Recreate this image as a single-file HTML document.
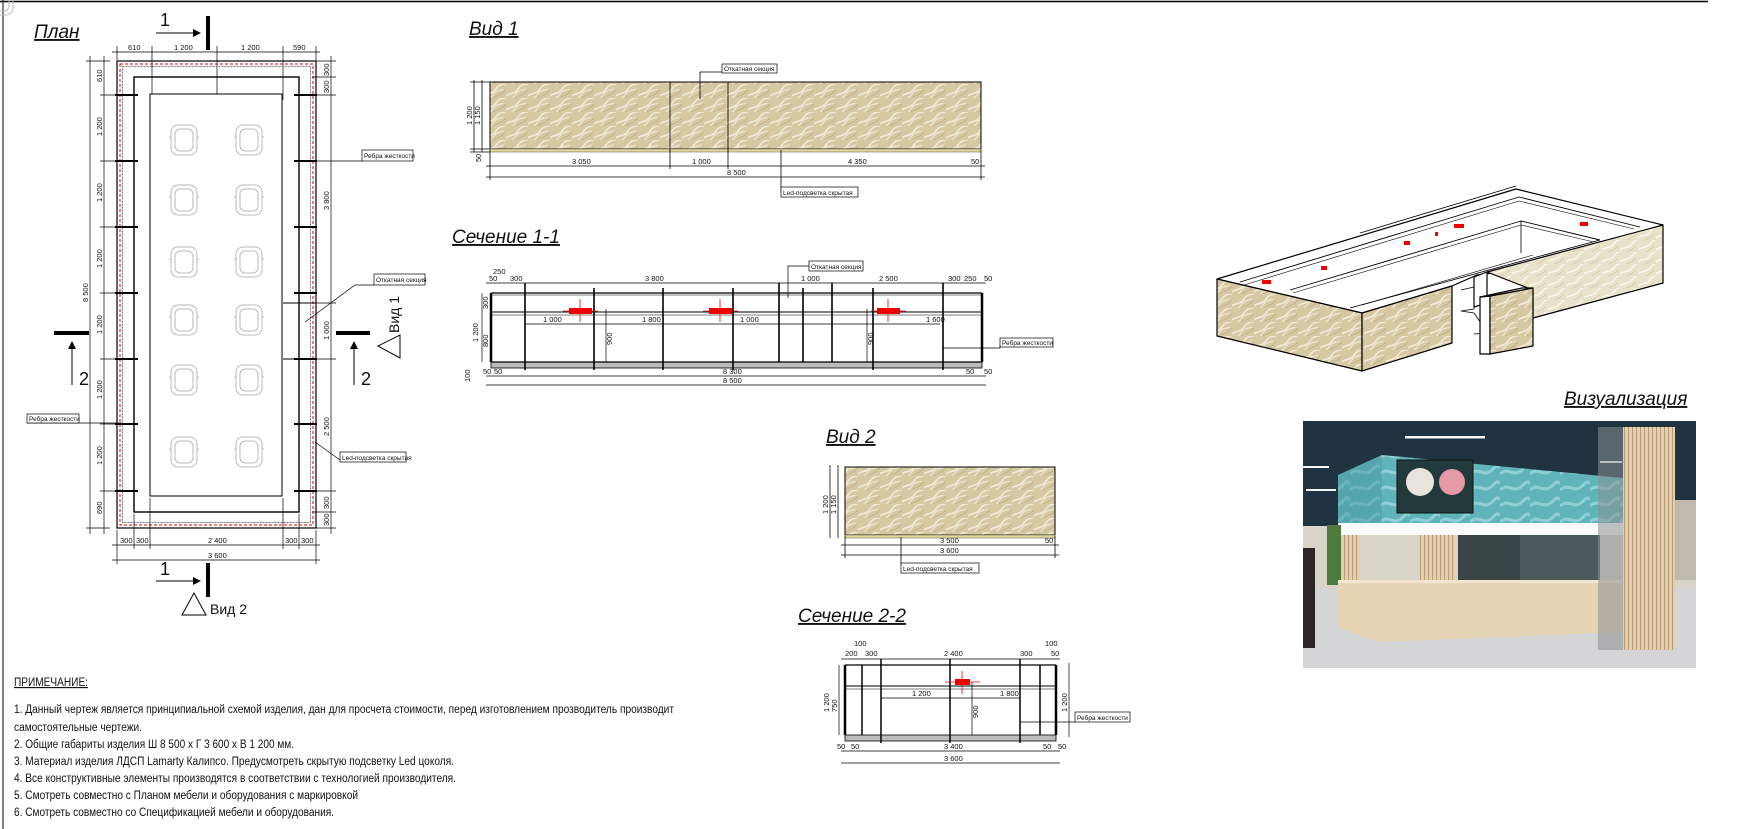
<!DOCTYPE html>
<html><head><meta charset="utf-8"><style>
html,body{margin:0;padding:0;background:#fff}
svg{display:block}
text{font-family:"Liberation Sans",sans-serif;fill:#111}
.t{font-size:19px;font-style:italic;text-decoration:underline}
.d{font-size:7.5px}
.n{font-size:11.5px}
.lb{font-size:6.5px}
</style></head><body>
<svg width="1761" height="829" viewBox="0 0 1761 829" xmlns="http://www.w3.org/2000/svg">
<defs>
<pattern id="wood" width="22" height="14" patternUnits="userSpaceOnUse">
<rect width="22" height="14" fill="#d6c8a3"/>
<path d="M-2 13 C4 8 8 11 12 5 S19 1 24 -1" stroke="#f2ebd8" stroke-width="1.6" fill="none"/>
<path d="M-6 20 C1 15 5 17 9 11 S16 7 20 5" stroke="#efe7d2" stroke-width="1.2" fill="none"/>
<path d="M8 15 C13 11 16 12 20 8 S26 4 30 2" stroke="#b9a77f" stroke-width=".6" fill="none"/>
</pattern>
<pattern id="wood2" width="18" height="12" patternUnits="userSpaceOnUse">
<rect width="18" height="12" fill="#e9e2ca"/>
<path d="M-2 11 C4 6 8 9 12 4 S17 0 20 -1" stroke="#faf7ee" stroke-width="1.5" fill="none"/>
<path d="M4 14 C9 10 12 11 16 6" stroke="#c9bc96" stroke-width=".6" fill="none"/>
</pattern>
<pattern id="teal" width="30" height="16" patternUnits="userSpaceOnUse">
<rect width="30" height="16" fill="#5fb3b9"/>
<path d="M0 10 C8 2 14 14 22 6 S28 4 30 3" stroke="#8ed0d3" stroke-width="3" fill="none"/>
</pattern>
<pattern id="slat" width="4" height="10" patternUnits="userSpaceOnUse">
<rect width="4" height="10" fill="#e3cfaf"/><rect width="1" height="10" fill="#b79e79"/>
</pattern>
<marker id="ar" markerWidth="8" markerHeight="8" refX="7" refY="4" orient="auto"><path d="M0 0 L8 4 L0 8z" fill="#000"/></marker>
</defs>

<!-- frame -->
<line x1="0" y1="1.5" x2="1708" y2="1.5" stroke="#000" stroke-width="1.5"/>
<line x1="3" y1="0" x2="3" y2="829" stroke="#000" stroke-width="1"/>

<!-- ========== PLAN ========== -->
<text x="34" y="38" class="t">План</text>
<!-- section 1 top -->
<line x1="208" y1="16" x2="208" y2="50" stroke="#000" stroke-width="4"/>
<line x1="156" y1="33" x2="200" y2="33" stroke="#000" stroke-width="1" marker-end="url(#ar)"/>
<text x="160" y="26" font-size="18">1</text>
<!-- top dims -->
<g stroke="#000" stroke-width=".7">
<line x1="112" y1="52" x2="320" y2="52"/>
<line x1="117" y1="46" x2="117" y2="60"/><line x1="152" y1="46" x2="152" y2="100"/><line x1="217" y1="46" x2="217" y2="100"/><line x1="283" y1="46" x2="283" y2="100"/><line x1="316" y1="46" x2="316" y2="60"/>
</g>
<text x="128" y="50" class="d">610</text><text x="174" y="50" class="d">1 200</text><text x="241" y="50" class="d">1 200</text><text x="293" y="50" class="d">590</text>
<!-- walls -->
<rect x="117" y="61" width="199" height="467" fill="none" stroke="#000" stroke-width="1.2"/>
<rect x="120" y="64" width="193" height="461" fill="none" stroke="#d00" stroke-width="1" stroke-dasharray="3,2"/>
<rect x="122.5" y="66.5" width="188" height="456" fill="none" stroke="#777" stroke-width="1" stroke-dasharray="2,1"/>
<rect x="134" y="77" width="165" height="435" fill="none" stroke="#000" stroke-width="1.4"/>
<rect x="150" y="94" width="132" height="402" fill="#fff" stroke="#000" stroke-width="1"/>
<!-- notch -->
<g stroke="#000" stroke-width="1"><line x1="283" y1="303" x2="315" y2="303"/><line x1="283" y1="359" x2="315" y2="359"/></g>
<!-- rib ticks -->
<g stroke="#000" stroke-width="2">
<line x1="115" y1="95" x2="138" y2="95"/><line x1="115" y1="161" x2="138" y2="161"/><line x1="115" y1="227" x2="138" y2="227"/><line x1="115" y1="293" x2="138" y2="293"/><line x1="115" y1="359" x2="138" y2="359"/><line x1="115" y1="424" x2="138" y2="424"/><line x1="115" y1="491" x2="138" y2="491"/>
<line x1="294" y1="95" x2="317" y2="95"/><line x1="294" y1="161" x2="317" y2="161"/><line x1="294" y1="227" x2="317" y2="227"/><line x1="294" y1="293" x2="317" y2="293"/><line x1="294" y1="359" x2="317" y2="359"/><line x1="294" y1="424" x2="317" y2="424"/><line x1="294" y1="491" x2="317" y2="491"/>
</g>
<!-- chairs -->
<g fill="none" stroke="#bbb" stroke-width="1">
<g id="ch"><rect x="-13" y="-15" width="26" height="30" rx="7"/><rect x="-9" y="-11" width="18" height="22" rx="5"/><line x1="-15" y1="-3" x2="-13" y2="-3"/><line x1="13" y1="-3" x2="15" y2="-3"/></g>
<use href="#ch" x="184" y="140"/><use href="#ch" x="249" y="140"/>
<use href="#ch" x="184" y="200"/><use href="#ch" x="249" y="200"/>
<use href="#ch" x="184" y="262"/><use href="#ch" x="249" y="262"/>
<use href="#ch" x="184" y="320"/><use href="#ch" x="249" y="320"/>
<use href="#ch" x="184" y="380"/><use href="#ch" x="249" y="380"/>
<use href="#ch" x="184" y="452"/><use href="#ch" x="249" y="452"/>
</g>
<!-- left dims -->
<g stroke="#000" stroke-width=".7">
<line x1="90" y1="56" x2="90" y2="534"/><line x1="104" y1="56" x2="104" y2="534"/>
<line x1="86" y1="61" x2="110" y2="61"/><line x1="86" y1="528" x2="110" y2="528"/>
<line x1="100" y1="95" x2="118" y2="95"/><line x1="100" y1="161" x2="118" y2="161"/><line x1="100" y1="227" x2="118" y2="227"/><line x1="100" y1="293" x2="118" y2="293"/><line x1="100" y1="359" x2="118" y2="359"/><line x1="100" y1="424" x2="118" y2="424"/><line x1="100" y1="491" x2="118" y2="491"/>
</g>
<g class="d">
<text transform="translate(102,82) rotate(-90)">610</text>
<text transform="translate(102,136) rotate(-90)">1 200</text><text transform="translate(102,202) rotate(-90)">1 200</text><text transform="translate(102,268) rotate(-90)">1 200</text><text transform="translate(102,334) rotate(-90)">1 200</text><text transform="translate(102,399) rotate(-90)">1 200</text><text transform="translate(102,465) rotate(-90)">1 200</text>
<text transform="translate(102,514) rotate(-90)">690</text>
<text transform="translate(88,302) rotate(-90)">8 500</text>
</g>
<!-- right dims -->
<g stroke="#000" stroke-width=".7">
<line x1="331" y1="56" x2="331" y2="534"/>
<line x1="312" y1="61" x2="336" y2="61"/><line x1="312" y1="77" x2="336" y2="77"/><line x1="312" y1="95" x2="336" y2="95"/><line x1="312" y1="303" x2="336" y2="303"/><line x1="312" y1="359" x2="336" y2="359"/><line x1="312" y1="491" x2="336" y2="491"/><line x1="312" y1="512" x2="336" y2="512"/><line x1="312" y1="528" x2="336" y2="528"/>
</g>
<g class="d">
<text transform="translate(329,76) rotate(-90)">300</text><text transform="translate(329,93) rotate(-90)">300</text>
<text transform="translate(329,210) rotate(-90)">3 800</text><text transform="translate(329,340) rotate(-90)">1 000</text>
<text transform="translate(329,436) rotate(-90)">2 500</text>
<text transform="translate(329,509) rotate(-90)">300</text><text transform="translate(329,526) rotate(-90)">300</text>
</g>
<!-- leaders -->
<g stroke="#000" stroke-width=".7" fill="none">
<polyline points="298,161 362,161"/>
<polyline points="305,322 355,285 374,285"/>
<polyline points="27,423 122,423"/>
<polyline points="315,442 340,460"/>
</g>
<rect x="362" y="150" width="51" height="11" fill="#fff" stroke="#000" stroke-width=".7"/><text x="364" y="158" class="lb">Ребра жесткости</text>
<rect x="374" y="274" width="51" height="11" fill="#fff" stroke="#000" stroke-width=".7"/><text x="376" y="282" class="lb">Откатная секция</text>
<rect x="27" y="414" width="52" height="9" fill="#fff" stroke="#000" stroke-width=".7"/><text x="29" y="421" class="lb">Ребра жесткости</text>
<rect x="340" y="452" width="66" height="10" fill="#fff" stroke="#000" stroke-width=".7"/><text x="342" y="460" class="lb">Led-подсветка скрытая</text>
<!-- section 2 markers -->
<line x1="54" y1="333" x2="89" y2="333" stroke="#000" stroke-width="4"/>
<line x1="72" y1="385" x2="72" y2="342" stroke="#000" marker-end="url(#ar)"/>
<text x="79" y="385" font-size="18">2</text>
<line x1="336" y1="333" x2="370" y2="333" stroke="#000" stroke-width="4"/>
<line x1="354" y1="385" x2="354" y2="342" stroke="#000" marker-end="url(#ar)"/>
<text x="361" y="385" font-size="18">2</text>
<polygon points="400,335 400,358 378,346" fill="#fff" stroke="#000"/>
<text transform="translate(399,333) rotate(-90)" font-size="14">Вид 1</text>
<!-- bottom dims -->
<g stroke="#000" stroke-width=".7">
<line x1="112" y1="545" x2="320" y2="545"/><line x1="112" y1="560" x2="320" y2="560"/>
<line x1="117" y1="530" x2="117" y2="564"/><line x1="134" y1="514" x2="134" y2="549"/><line x1="150" y1="498" x2="150" y2="549"/><line x1="283" y1="498" x2="283" y2="549"/><line x1="299" y1="514" x2="299" y2="549"/><line x1="316" y1="530" x2="316" y2="564"/>
</g>
<text x="120" y="543" class="d">300</text><text x="136" y="543" class="d">300</text><text x="208" y="543" class="d">2 400</text><text x="285" y="543" class="d">300</text><text x="301" y="543" class="d">300</text>
<text x="208" y="558" class="d">3 600</text>
<line x1="208" y1="563" x2="208" y2="597" stroke="#000" stroke-width="4"/>
<line x1="156" y1="581" x2="200" y2="581" stroke="#000" marker-end="url(#ar)"/>
<text x="160" y="575" font-size="18">1</text>
<polygon points="194,593 206,615 182,615" fill="#fff" stroke="#000"/>
<text x="210" y="614" font-size="14">Вид 2</text>

<!-- notes -->
<text x="14" y="686" class="n" text-decoration="underline" textLength="74" lengthAdjust="spacingAndGlyphs">ПРИМЕЧАНИЕ:</text>
<text x="14" y="713" class="n" textLength="660" lengthAdjust="spacingAndGlyphs">1. Данный чертеж является принципиальной схемой изделия, дан для просчета стоимости, перед изготовлением прозводитель производит</text>
<text x="14" y="731" class="n" textLength="128" lengthAdjust="spacingAndGlyphs">самостоятельные чертежи.</text>
<text x="14" y="748" class="n" textLength="280" lengthAdjust="spacingAndGlyphs">2. Общие габариты изделия Ш 8 500 х Г 3 600 х В 1 200 мм.</text>
<text x="14" y="765" class="n" textLength="440" lengthAdjust="spacingAndGlyphs">3. Материал изделия ЛДСП Lamarty Калипсо. Предусмотреть скрытую подсветку Led цоколя.</text>
<text x="14" y="782" class="n" textLength="442" lengthAdjust="spacingAndGlyphs">4. Все конструктивные элементы производятся в соответствии с технологией производителя.</text>
<text x="14" y="799" class="n" textLength="344" lengthAdjust="spacingAndGlyphs">5. Смотреть совместно с Планом мебели и оборудования с маркировкой</text>
<text x="14" y="816" class="n" textLength="320" lengthAdjust="spacingAndGlyphs">6. Смотреть совместно со Спецификацией мебели и оборудования.</text>

<!-- ========== VIEW 1 ========== -->
<text x="469" y="35" class="t">Вид 1</text>
<rect x="490" y="82" width="491" height="67" fill="url(#wood)" stroke="#000" stroke-width="1"/>
<rect x="490" y="149" width="491" height="3" fill="#e3d79a" stroke="#555" stroke-width=".5"/>
<g stroke="#000" stroke-width=".8">
<line x1="670" y1="82" x2="670" y2="152"/><line x1="728" y1="82" x2="728" y2="152"/>
<line x1="486" y1="166" x2="985" y2="166"/><line x1="486" y1="177" x2="985" y2="177"/>
<line x1="490" y1="150" x2="490" y2="180"/><line x1="670" y1="150" x2="670" y2="169"/><line x1="728" y1="150" x2="728" y2="169"/><line x1="981" y1="150" x2="981" y2="180"/>
<line x1="474" y1="80" x2="474" y2="152"/><line x1="482" y1="80" x2="482" y2="152"/>
<line x1="470" y1="82" x2="490" y2="82"/><line x1="470" y1="149" x2="490" y2="149"/><line x1="470" y1="152" x2="490" y2="152"/>
<polyline points="700,99 700,72 722,72" fill="none"/>
<polyline points="781,150 781,192" fill="none"/>
</g>
<text x="572" y="164" class="d">3 050</text><text x="692" y="164" class="d">1 000</text><text x="848" y="164" class="d">4 350</text><text x="971" y="164" class="d">50</text>
<text x="727" y="175" class="d">8 500</text>
<text transform="translate(472,125) rotate(-90)" class="d">1 200</text><text transform="translate(480,125) rotate(-90)" class="d">1 150</text>
<text transform="translate(481,162) rotate(-90)" class="d">50</text>
<rect x="722" y="64" width="55" height="9" fill="#fff" stroke="#000" stroke-width=".7"/><text x="724" y="71" class="lb">Откатная секция</text>
<rect x="781" y="187" width="77" height="10" fill="#fff" stroke="#000" stroke-width=".7"/><text x="783" y="195" class="lb">Led-подсветка скрытая</text>

<!-- ========== SECTION 1-1 ========== -->
<text x="452" y="243" class="t">Сечение 1-1</text>
<g stroke="#000" fill="none">
<line x1="486" y1="283" x2="986" y2="283" stroke-width=".7"/>
<rect x="491" y="362" width="491" height="6" fill="#bbb" stroke-width=".8"/>
<line x1="491" y1="293" x2="982" y2="293" stroke-width="1.2"/>
<line x1="491" y1="295" x2="982" y2="295" stroke-width=".6"/>
<line x1="491" y1="312" x2="982" y2="312" stroke-width="1"/>
<line x1="491" y1="315" x2="982" y2="315" stroke-width=".6"/>
<line x1="491" y1="362" x2="982" y2="362" stroke-width="1.2"/>
<line x1="491" y1="293" x2="491" y2="362" stroke-width="2.5"/>
<line x1="982" y1="293" x2="982" y2="362" stroke-width="2.5"/>
<g stroke-width="1.6">
<line x1="525" y1="283" x2="525" y2="370"/><line x1="594" y1="288" x2="594" y2="370"/><line x1="663" y1="288" x2="663" y2="370"/><line x1="733" y1="288" x2="733" y2="370"/><line x1="779" y1="283" x2="779" y2="362"/><line x1="803" y1="288" x2="803" y2="362"/><line x1="832" y1="283" x2="832" y2="362"/><line x1="873" y1="288" x2="873" y2="370"/><line x1="943" y1="283" x2="943" y2="370"/>
</g>
<line x1="525" y1="324" x2="940" y2="324" stroke-width=".7"/>
<line x1="606" y1="309" x2="606" y2="362" stroke-width=".7"/>
<line x1="867" y1="309" x2="867" y2="362" stroke-width=".7"/>
<line x1="486" y1="376" x2="986" y2="376" stroke-width=".7"/>
<line x1="486" y1="385" x2="986" y2="385" stroke-width=".7"/>
<line x1="482" y1="293" x2="482" y2="362" stroke-width=".7"/>
<polyline points="943,348 1000,348 1000,345" stroke-width=".7"/>
<polyline points="788,298 788,266 809,266" stroke-width=".7"/>
</g>
<g fill="#e00"><rect x="569" y="308" width="23" height="6"/><rect x="709" y="308" width="23" height="6"/><rect x="877" y="308" width="23" height="6"/></g>
<g stroke="#e00" stroke-width=".8"><line x1="580" y1="299" x2="580" y2="322"/><line x1="563" y1="311" x2="598" y2="311"/><line x1="720" y1="299" x2="720" y2="322"/><line x1="703" y1="311" x2="738" y2="311"/><line x1="888" y1="299" x2="888" y2="322"/><line x1="871" y1="311" x2="906" y2="311"/></g>
<text x="493" y="274" class="d">250</text><text x="489" y="281" class="d">50</text><text x="510" y="281" class="d">300</text><text x="645" y="281" class="d">3 800</text><text x="801" y="281" class="d">1 000</text><text x="879" y="281" class="d">2 500</text><text x="948" y="281" class="d">300</text><text x="964" y="281" class="d">250</text><text x="984" y="281" class="d">50</text>
<text x="543" y="322" class="d">1 000</text><text x="642" y="322" class="d">1 800</text><text x="740" y="322" class="d">1 000</text><text x="926" y="322" class="d">1 600</text>
<text transform="translate(612,345) rotate(-90)" class="d">900</text><text transform="translate(873,345) rotate(-90)" class="d">900</text>
<text x="723" y="374" class="d">8 300</text><text x="723" y="383" class="d">8 500</text>
<text x="483" y="374" class="d">50</text><text x="494" y="374" class="d">50</text><text x="966" y="374" class="d">50</text><text x="984" y="374" class="d">50</text>
<text transform="translate(478,342) rotate(-90)" class="d">1 200</text><text transform="translate(488,347) rotate(-90)" class="d">800</text><text transform="translate(488,309) rotate(-90)" class="d">300</text><text transform="translate(470,382) rotate(-90)" class="d">100</text>
<rect x="809" y="261" width="54" height="10" fill="#fff" stroke="#000" stroke-width=".7"/><text x="811" y="269" class="lb">Откатная секция</text>
<rect x="1000" y="338" width="53" height="9" fill="#fff" stroke="#000" stroke-width=".7"/><text x="1002" y="345" class="lb">Ребра жесткости</text>

<!-- ========== VIEW 2 ========== -->
<text x="826" y="443" class="t">Вид 2</text>
<rect x="845" y="467" width="210" height="68" fill="url(#wood)" stroke="#000"/>
<rect x="845" y="535" width="210" height="3" fill="#e3d79a" stroke="#555" stroke-width=".5"/>
<g stroke="#000" stroke-width=".8">
<line x1="841" y1="545" x2="1059" y2="545"/><line x1="841" y1="555" x2="1059" y2="555"/>
<line x1="845" y1="536" x2="845" y2="558"/><line x1="1055" y1="536" x2="1055" y2="558"/>
<line x1="830" y1="465" x2="830" y2="538"/><line x1="838" y1="465" x2="838" y2="538"/>
<line x1="901" y1="537" x2="901" y2="565"/>
</g>
<text transform="translate(828,514) rotate(-90)" class="d">1 200</text><text transform="translate(836,514) rotate(-90)" class="d">1 150</text>
<text x="940" y="543" class="d">3 500</text><text x="1045" y="543" class="d">50</text><text x="940" y="553" class="d">3 600</text>
<rect x="901" y="563" width="78" height="10" fill="#fff" stroke="#000" stroke-width=".7"/><text x="903" y="571" class="lb">Led-подсветка скрытая</text>

<!-- ========== SECTION 2-2 ========== -->
<text x="798" y="622" class="t">Сечение 2-2</text>
<g stroke="#000" fill="none">
<line x1="841" y1="659" x2="1060" y2="659" stroke-width=".7"/>
<rect x="845" y="735" width="211" height="6" fill="#bbb" stroke-width=".8"/>
<line x1="845" y1="665" x2="1056" y2="665" stroke-width="1.2"/>
<line x1="845" y1="686" x2="1056" y2="686" stroke-width="1"/>
<line x1="845" y1="689" x2="1056" y2="689" stroke-width=".6"/>
<line x1="845" y1="665" x2="845" y2="735" stroke-width="2.5"/>
<line x1="1056" y1="665" x2="1056" y2="735" stroke-width="2.5"/>
<g stroke-width="1.5"><line x1="862" y1="665" x2="862" y2="735"/><line x1="881" y1="659" x2="881" y2="743"/><line x1="950" y1="659" x2="950" y2="743"/><line x1="1020" y1="659" x2="1020" y2="743"/><line x1="1040" y1="665" x2="1040" y2="735"/></g>
<line x1="881" y1="698" x2="1020" y2="698" stroke-width=".7"/>
<line x1="972" y1="682" x2="972" y2="735" stroke-width=".7"/>
<line x1="1069" y1="663" x2="1069" y2="737" stroke-width=".7"/>
<line x1="841" y1="751" x2="1060" y2="751" stroke-width=".7"/>
<line x1="841" y1="763" x2="1060" y2="763" stroke-width=".7"/>
<line x1="839" y1="665" x2="839" y2="735" stroke-width=".7"/>
<polyline points="1020,722 1075,722" stroke-width=".7"/>
</g>
<rect x="955" y="679" width="15" height="6" fill="#e00"/>
<g stroke="#e00" stroke-width=".8"><line x1="962" y1="671" x2="962" y2="694"/><line x1="945" y1="682" x2="980" y2="682"/></g>
<text x="854" y="646" class="d">100</text><text x="845" y="656" class="d">200</text><text x="865" y="656" class="d">300</text><text x="944" y="656" class="d">2 400</text><text x="1020" y="656" class="d">300</text><text x="1045" y="646" class="d">100</text><text x="1051" y="656" class="d">50</text>
<text x="912" y="696" class="d">1 200</text><text x="1000" y="696" class="d">1 800</text>
<text transform="translate(978,718) rotate(-90)" class="d">900</text>
<text transform="translate(1067,712) rotate(-90)" class="d">1 200</text>
<text transform="translate(837,712) rotate(-90)" class="d">750</text><text transform="translate(829,712) rotate(-90)" class="d">1 200</text>
<text x="944" y="749" class="d">3 400</text><text x="944" y="761" class="d">3 600</text>
<text x="837" y="749" class="d">50</text><text x="851" y="749" class="d">50</text><text x="1043" y="749" class="d">50</text><text x="1058" y="749" class="d">50</text>
<rect x="1075" y="712" width="55" height="10" fill="#fff" stroke="#000" stroke-width=".7"/><text x="1077" y="720" class="lb">Ребра жесткости</text>

<!-- ========== ISO 3D ========== -->
<g stroke="#000" stroke-width="1.2" stroke-linejoin="round">
<!-- top surface fill -->
<polygon points="1217,279 1516,189 1663,225 1533,268 1477,275 1452,286 1362,313" fill="#fff"/>
<!-- inner cavity lines -->
<polyline points="1240,282 1519,197 1640,227" fill="none" stroke-width=".9"/>
<polyline points="1244,285 1519,201 1634,229" fill="none" stroke-width=".6"/>
<polyline points="1290,290 1521,221 1600,240" fill="none" stroke-width=".9"/>
<polyline points="1293,293 1521,225 1594,242" fill="none" stroke-width=".6"/>
<line x1="1521" y1="221" x2="1521" y2="253" stroke-width=".8"/>
<polyline points="1350,308 1533,258 1600,240" fill="none" stroke-width=".9"/>
<polyline points="1362,305 1533,255" fill="none" stroke-width=".6"/>
<polyline points="1230,197 1260,182 1516,187" fill="none" stroke-width="0" />
<line x1="1360" y1="233" x2="1516" y2="186" stroke-width=".8"/>
<!-- front-left face -->
<polygon points="1217,279 1362,313 1362,371 1217,336" fill="url(#wood)"/>
<polygon points="1362,313 1452,286 1452,343 1362,371" fill="url(#wood)"/>
<!-- right long wall -->
<polygon points="1487,272 1663,225 1663,283 1533,318 1533,290" fill="url(#wood2)"/>
<polygon points="1474,277 1487,272 1487,303 1474,307" fill="#fff"/>
<polyline points="1461,290 1474,287 1474,309 1461,311 1474,313 1487,332 1487,333 1474,334" fill="none" stroke-width=".8"/>
<!-- small panel -->
<polygon points="1480,297 1490,296 1490,354 1480,354" fill="#fff"/>
<polygon points="1490,296 1533,288 1533,346 1490,354" fill="url(#wood)"/>
<polygon points="1480,297 1522,288 1533,288 1490,296" fill="#fff"/>
</g>
<g fill="#e00"><rect x="1262" y="280" width="9" height="4"/><rect x="1321" y="266" width="6" height="4"/><rect x="1404" y="241" width="6" height="4"/><rect x="1435" y="232" width="3" height="4"/><rect x="1454" y="224" width="10" height="4"/><rect x="1580" y="222" width="8" height="4"/></g>

<!-- ========== VISUALIZATION ========== -->
<text x="1564" y="405" class="t">Визуализация</text>
<g>
<rect x="1303" y="421" width="393" height="247" fill="#cfd2d3"/>
<rect x="1303" y="421" width="393" height="105" fill="#1f3440"/>
<rect x="1303" y="526" width="393" height="62" fill="#d9d4c8"/>
<rect x="1303" y="588" width="393" height="80" fill="#d3d5d6"/>
<rect x="1405" y="436" width="80" height="2.5" fill="#f4f6f6"/>
<rect x="1303" y="466" width="26" height="2" fill="#f4f6f6"/><rect x="1306" y="489" width="30" height="2" fill="#f4f6f6"/><rect x="1600" y="461" width="22" height="2" fill="#f4f6f6"/>
<polygon points="1338,475 1382,455 1623,478 1623,523 1338,523" fill="url(#teal)"/>
<polygon points="1338,475 1382,455 1382,523 1338,523" fill="#4c9aa0" opacity=".5"/>
<rect x="1338" y="523" width="285" height="12" fill="#fbfbfb"/>
<rect x="1397" y="460" width="76" height="53" fill="#233a3c" stroke="#111"/>
<circle cx="1420" cy="482" r="14" fill="#e9e4db"/><circle cx="1452" cy="482" r="13" fill="#e69aa8"/>
<rect x="1340" y="535" width="20" height="48" fill="url(#slat)"/>
<rect x="1420" y="535" width="35" height="48" fill="url(#slat)"/>
<rect x="1458" y="535" width="65" height="48" fill="#3a4548"/>
<rect x="1520" y="535" width="80" height="48" fill="#4c5a5e"/>
<rect x="1327" y="525" width="14" height="60" fill="#4f7a3e"/>
<polygon points="1338,582 1622,582 1622,632 1380,642 1338,628" fill="#e6d5b5"/>
<rect x="1338" y="580" width="284" height="3" fill="#f1e6d0"/>
<rect x="1598" y="427" width="25" height="223" fill="#8a8f92" opacity=".55"/>
<rect x="1623" y="427" width="52" height="223" fill="url(#slat)"/>
<rect x="1303" y="548" width="12" height="100" fill="#2a2626"/>
<rect x="1675" y="500" width="21" height="80" fill="#bfb9ae"/>
</g>
</svg>
</body></html>
